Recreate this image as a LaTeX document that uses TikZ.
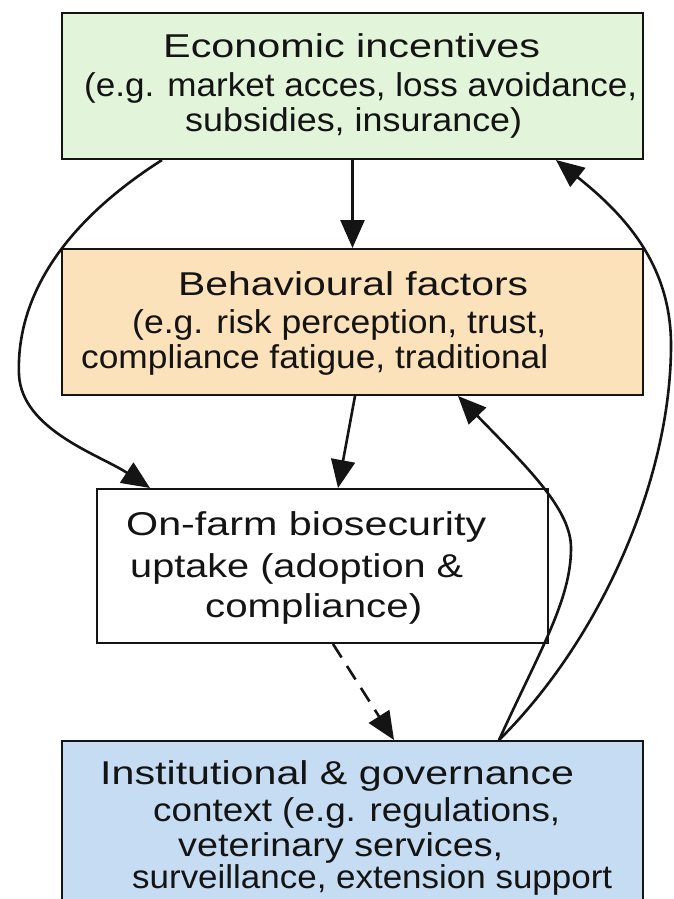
\documentclass[tikz,border=0pt]{standalone}
\usepackage{fontspec}
\setmainfont{Liberation Sans}
\usepackage{graphicx}
\usetikzlibrary{arrows.meta}
\definecolor{ecofill}{RGB}{226,244,218}
\definecolor{behfill}{RGB}{252,226,186}
\definecolor{insfill}{RGB}{198,220,242}
\definecolor{ink}{RGB}{20,20,20}
% set a line of text to a given width, keeping its height
\newcommand{\fitline}[2]{\resizebox{#1pt}{\height}{#2}}

\begin{document}
\begin{tikzpicture}[x=1pt,y=-1pt,
  box/.style={draw=ink, line width=2pt, inner sep=0pt},
  txt/.style={inner sep=0pt, anchor=base west, text=ink, font=\fontsize{33}{38}\selectfont},
  conn/.style={draw=ink, line width=2.6pt, -{Triangle[length=28pt,width=24pt]}},
  dashconn/.style={conn, dash pattern=on 16pt off 10pt}]
\fill[white] (0,0) rectangle (673,899);
\useasboundingbox (0,0) rectangle (673,899);

% boxes
\node[box, fill=ecofill, minimum width=581pt, minimum height=146pt] (eco) at (352.5,86) {};
\node[box, fill=behfill, minimum width=581pt, minimum height=146pt] (beh) at (352.5,322) {};
\node[box, fill=white, minimum width=451pt, minimum height=154pt] (farm) at (322.5,566) {};
\node[box, fill=insfill, minimum width=581pt, minimum height=190pt] (ins) at (352.5,836) {};

% economic incentives
\node[txt] (eco1) at (163,58)  {\fitline{377}{Economic incentives}};
\node[txt] (eco2) at (84,96)   {\fitline{553}{(e.g. market acces, loss avoidance,}};
\node[txt] (eco3) at (185,131) {\fitline{337}{subsidies, insurance)}};

% behavioural factors
\node[txt] (beh1) at (178,295) {\fitline{350}{Behavioural factors}};
\node[txt] (beh2) at (132,333) {\fitline{414}{(e.g. risk perception, trust,}};
\node[txt] (beh3) at (81,368)  {\fitline{467}{compliance fatigue, traditional}};

% on-farm uptake
\node[txt] (farm1) at (126,535) {\fitline{360}{On-farm biosecurity}};
\node[txt] (farm2) at (130,577) {\fitline{333}{uptake (adoption \&}};
\node[txt] (farm3) at (205,617) {\fitline{217}{compliance)}};

% institutional context
\node[txt] (ins1) at (100,784) {\fitline{474}{Institutional \& governance}};
\node[txt] (ins2) at (153,821) {\fitline{407}{context (e.g. regulations,}};
\node[txt] (ins3) at (178,856) {\fitline{325}{veterinary services,}};
\node[txt] (ins4) at (132,888) {\fitline{480}{surveillance, extension support}};

% connectors
\draw[conn] (eco.south) -- (beh.north);
\draw[conn] ([xshift=-190.5pt]eco.south) .. controls (60,225) and (16,300) .. (19,375)
  .. controls (22,430) and (100,455) .. ([xshift=-172.5pt]farm.north);
\draw[conn] ([xshift=2.5pt]beh.south) -- ([xshift=15.5pt]farm.north);
\draw[dashconn] ([xshift=10.5pt]farm.south) -- ([xshift=41.5pt]ins.north);
\draw[conn] ([xshift=146.5pt]ins.north) .. controls (540,650) and (571,600) .. (571,548)
  .. controls (571,510) and (530,470) .. ([xshift=105.5pt]beh.south);
\draw[conn] ([xshift=146.5pt]ins.north) .. controls (600,640) and (671,480) .. (671,345)
  .. controls (671,265) and (625,215) .. ([xshift=203.5pt]eco.south);
\end{tikzpicture}
\end{document}
